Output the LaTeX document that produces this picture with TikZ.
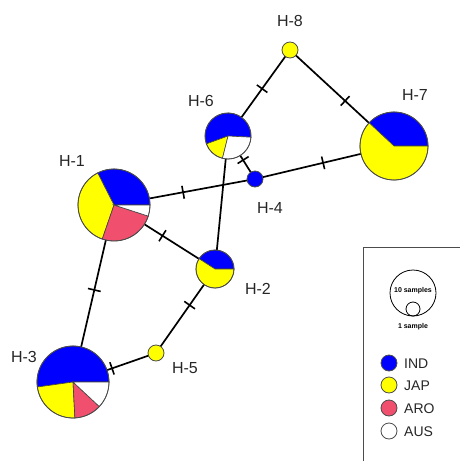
\documentclass[tikz,border=0pt]{standalone}
\usepackage{fontspec}
\setmainfont{Liberation Sans}
\definecolor{ind}{RGB}{0,0,255}
\definecolor{jap}{RGB}{255,255,0}
\definecolor{aro}{RGB}{240,80,110}
\newcommand\pieslice[5]{\filldraw[fill=#5, draw=black!75, line width=0.6pt] (#1) -- ++(#3:#2) arc[start angle=#3, end angle=#4, radius=#2] -- cycle;}
\newcommand\pierim[2]{\draw[black!70, line width=0.8pt] (#1) circle[radius=#2];}
\tikzset{
  hap/.style={circle, inner sep=0pt},
  lbl/.style={font=\fontsize{16}{16}\selectfont, text=black!85, inner sep=0pt},
  edge/.style={line width=1.7pt, black},
  tick/.style={rectangle, draw, line width=1.6pt, minimum width=0pt, minimum height=13pt, inner sep=0pt, sloped},
  legt/.style={font=\fontsize{14}{14}\selectfont, text=black!85, anchor=west, inner sep=0pt},
  smallt/.style={font=\fontsize{7}{7}\selectfont\bfseries, inner sep=0pt},
}
\begin{document}
\begin{tikzpicture}[x=1pt,y=1pt]
\useasboundingbox (0,0) rectangle (459,-461);
% haplotype positions
\node[hap] (h1) at (114,-205) {};
\node[hap] (h2) at (215,-269) {};
\node[hap] (h3) at (73,-382) {};
\node[hap] (h4) at (255,-179) {};
\node[hap] (h5) at (156,-353) {};
\node[hap] (h6) at (228,-136) {};
\node[hap] (h7) at (394,-146) {};
\node[hap] (h8) at (290,-50) {};
% edges
\draw[edge] (h8.center) -- node[tick, pos=0.45]{} (h6.center);
\draw[edge] (h8.center) -- node[tick, pos=0.53]{} (h7.center);
\draw[edge] (h1.center) -- node[tick, pos=0.49]{} (h4.center);
\draw[edge] (h4.center) -- node[tick, pos=0.49]{} (h7.center);
\draw[edge] (h6.center) -- node[tick, pos=0.56]{} (h4.center);
\draw[edge] (h6.center) -- (h2.center);
\draw[edge] (h1.center) -- node[tick, pos=0.48]{} (h2.center);
\draw[edge] (h1.center) -- node[tick, pos=0.48]{} (h3.center);
\draw[edge] (h2.center) -- node[tick, pos=0.43]{} (h5.center);
\draw[edge] (h5.center) -- node[tick, pos=0.53]{} (h3.center);
% pies
% H-1
\pieslice{h1.center}{36pt}{0}{117}{ind}
\pieslice{h1.center}{36pt}{117}{251}{jap}
\pieslice{h1.center}{36pt}{251}{342}{aro}
\pieslice{h1.center}{36pt}{342}{360}{white}
\pierim{h1.center}{36pt}
% H-3
\pieslice{h3.center}{36pt}{0}{188}{ind}
\pieslice{h3.center}{36pt}{188}{273}{jap}
\pieslice{h3.center}{36pt}{273}{317}{aro}
\pieslice{h3.center}{36pt}{317}{360}{white}
\pierim{h3.center}{36pt}
% H-7
\pieslice{h7.center}{34pt}{0}{137}{ind}
\pieslice{h7.center}{34pt}{137}{360}{jap}
\pierim{h7.center}{34pt}
% H-6
\pieslice{h6.center}{23pt}{-3}{200}{ind}
\pieslice{h6.center}{23pt}{200}{256}{jap}
\pieslice{h6.center}{23pt}{256}{357}{white}
\pierim{h6.center}{23pt}
% H-2
\pieslice{h2.center}{19pt}{0}{147}{ind}
\pieslice{h2.center}{19pt}{147}{360}{jap}
\pierim{h2.center}{19pt}
% small ones
\filldraw[fill=ind, draw=black!70, line width=0.8pt] (h4.center) circle[radius=8pt];
\filldraw[fill=jap, draw=black!70, line width=0.8pt] (h5.center) circle[radius=8pt];
\filldraw[fill=jap, draw=black!70, line width=0.8pt] (h8.center) circle[radius=8pt];
% labels
\node[lbl] (l8) at (290,-21) {H-8};
\node[lbl] (l7) at (415,-95) {H-7};
\node[lbl] (l6) at (201,-101) {H-6};
\node[lbl] (l1) at (72,-161) {H-1};
\node[lbl] (l4) at (270,-208) {H-4};
\node[lbl] (l2) at (258,-289) {H-2};
\node[lbl] (l5) at (185,-368) {H-5};
\node[lbl] (l3) at (24,-357) {H-3};
% legend
\draw[black!70, line width=0.8pt] (363,-247) rectangle (480,-480);
\draw[black, line width=0.8pt] (413,-293) circle[radius=23pt];
\draw[black, line width=0.8pt] (413,-309) circle[radius=7pt];
\node[smallt] (ls10) at (413,-291) {10 samples};
\node[smallt] (ls1) at (413,-327) {1 sample};
\filldraw[fill=ind, draw=black!70, line width=0.8pt] (389,-363) circle[radius=8pt];
\filldraw[fill=jap, draw=black!70, line width=0.8pt] (389,-385) circle[radius=8pt];
\filldraw[fill=aro, draw=black!70, line width=0.8pt] (389,-408) circle[radius=8pt];
\filldraw[fill=white, draw=black!70, line width=0.8pt] (389,-431) circle[radius=8pt];
\node[legt] (li) at (404,-364) {IND};
\node[legt] (lj) at (404,-386) {JAP};
\node[legt] (la) at (404,-409) {ARO};
\node[legt] (lu) at (404,-432) {AUS};
\end{tikzpicture}
\end{document}
